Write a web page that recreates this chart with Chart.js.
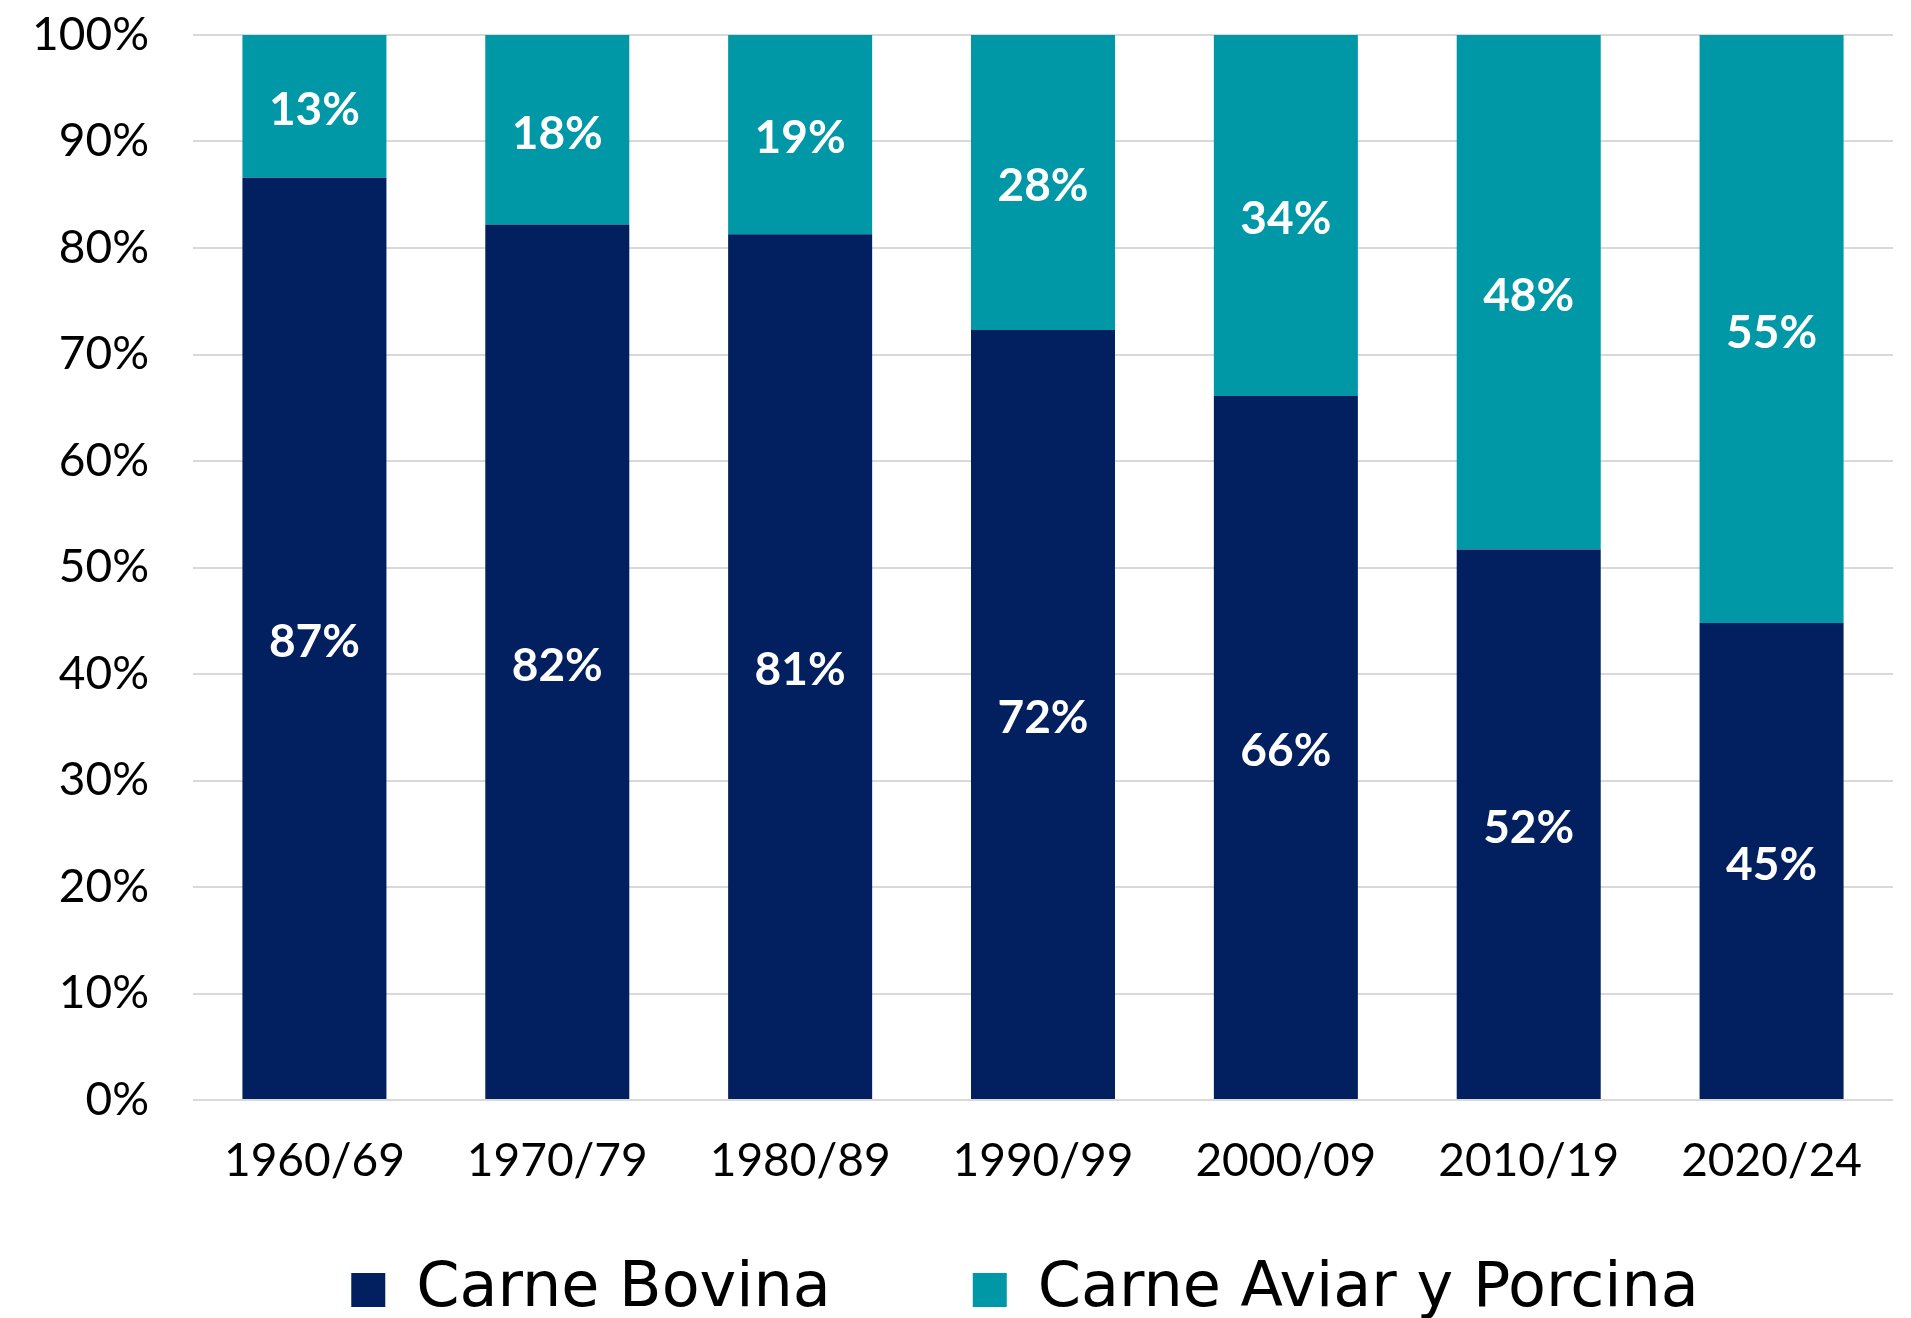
<!DOCTYPE html>
<html>
<head>
<meta charset="utf-8">
<script src="https://cdn.jsdelivr.net/npm/chart.js@4"></script>
<style>
html,body{margin:0;padding:0;background:#fff;}
canvas{display:block;}
</style>
</head>
<body>
<canvas id="c" width="1911" height="1318"></canvas>
<script>
const categories = ['1960/69','1970/79','1980/89','1990/99','2000/09','2010/19','2020/24'];
const bovina = [86.6, 82.2, 81.3, 72.3, 66.1, 51.7, 44.8];
const aviarPorcina = [13.4, 17.8, 18.7, 27.7, 33.9, 48.3, 55.2];
const yTicks = [0,10,20,30,40,50,60,70,80,90,100];
const seriesNames = ['Carne Bovina','Carne Aviar y Porcina'];

const FONT = 'Lato';
const LEGEND_FONT = 'DejaVu Sans';

const segLabels = {
  id: 'segLabels',
  afterDatasetsDraw(chart) {
    const ctx = chart.ctx;
    ctx.save();
    ctx.font = 'bold 46px ' + FONT;
    ctx.fillStyle = '#ffffff';
    ctx.textAlign = 'center';
    ctx.textBaseline = 'middle';
    chart.data.datasets.forEach((ds, di) => {
      const meta = chart.getDatasetMeta(di);
      meta.data.forEach((bar, i) => {
        const p = bar.getProps(['x','y','base'], true);
        ctx.fillText(Math.round(ds.data[i]) + '%', p.x, (p.y + p.base) / 2 + 4);
      });
    });
    ctx.restore();
  }
};

const legendShift = {
  id: 'legendShift',
  afterLayout(chart) {
    const l = chart.legend;
    if (!l) return;
    l.left -= 18; l.right -= 18;
    l.top += 4; l.bottom += 4;
  }
};

new Chart(document.getElementById('c'), {
  type: 'bar',
  data: {
    labels: categories,
    datasets: [
      { label: seriesNames[0], data: bovina, backgroundColor: '#02205F', borderWidth: 0 },
      { label: seriesNames[1], data: aviarPorcina, backgroundColor: '#0098A7', borderWidth: 0 }
    ]
  },
  options: {
    responsive: false,
    animation: false,
    devicePixelRatio: 1,
    layout: { padding: { left: 0, right: 18, top: 35, bottom: -9 } },
    datasets: { bar: { categoryPercentage: 1, barPercentage: 0.593 } },
    scales: {
      x: {
        stacked: true,
        grid: { display: false, drawTicks: false },
        border: { display: false },
        ticks: { color: '#000', font: { family: FONT, size: 46 }, mirror: true, padding: -89, maxRotation: 0, autoSkip: false },
        afterFit(s) { s.height = 13; }
      },
      y: {
        stacked: true,
        min: 0, max: 100,
        afterBuildTicks(s) { s.ticks = yTicks.map(v => ({ value: v })); },
        grid: { color: '#d9d9d9', lineWidth: 2, drawTicks: true, tickLength: 44, tickColor: 'rgba(0,0,0,0)' },
        border: { display: false },
        ticks: { color: '#000', font: { family: FONT, size: 46 }, padding: 0, callback: v => v + '%' },
        afterFit(s) { s.width = 193; }
      }
    },
    plugins: {
      legend: {
        position: 'bottom',
        fullSize: false,
        labels: {
          color: '#000',
          font: { family: LEGEND_FONT, size: 62 },
          boxWidth: 34, boxHeight: 34,
          padding: 142
        }
      },
      tooltip: { enabled: false }
    }
  },
  plugins: [segLabels, legendShift]
});
</script>
</body>
</html>
